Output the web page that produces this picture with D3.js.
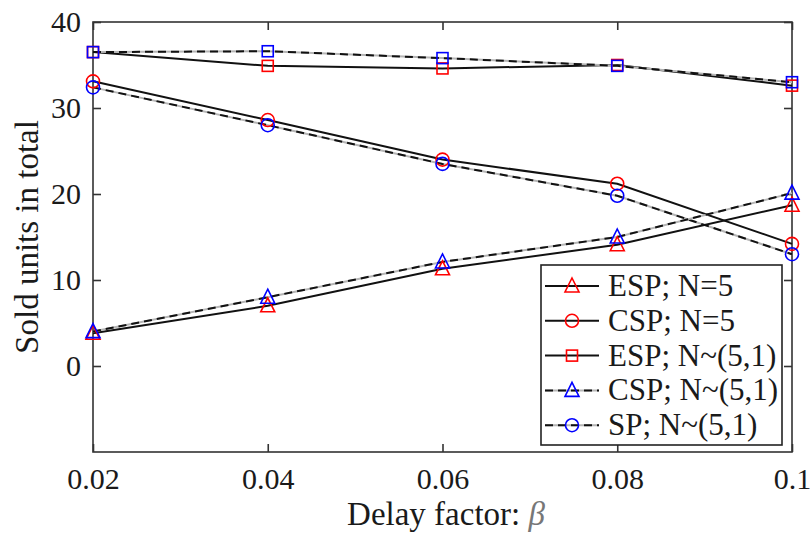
<!DOCTYPE html>
<html>
<head>
<meta charset="utf-8">
<script src="https://cdn.jsdelivr.net/npm/d3@7"></script>
<style>
  html, body { margin: 0; padding: 0; background: #fff; }
  svg { display: block; }
  text { font-family: "Liberation Serif", "Times New Roman", serif; fill: #1a1a1a; }
</style>
</head>
<body>
<svg id="chart" width="810" height="535"></svg>
<script>
// Delay factor values on the x axis
const betas = [0.02, 0.04, 0.06, 0.08, 0.1];
const xTickLabels = ["0.02", "0.04", "0.06", "0.08", "0.1"];
const yTicks = [0, 10, 20, 30, 40];

// Sold units in total for each strategy
const espN5      = [3.8, 7.0, 11.3, 14.1, 18.7];
const cspN5      = [33.1, 28.6, 24.0, 21.2, 14.2];
const espNdist   = [36.5, 34.9, 34.6, 35.0, 32.6];
const cspNdist   = [4.0, 8.0, 12.1, 15.0, 20.1];
const spNdist    = [32.4, 28.0, 23.5, 19.8, 13.0];
const espNdistB  = [36.5, 36.6, 35.8, 34.9, 33.0];

const seriesNames = ["ESP; N=5", "CSP; N=5", "ESP; N~(5,1)", "CSP; N~(5,1)", "SP; N~(5,1)"];

const series = [
  { name: seriesNames[2], values: espNdist,  color: "#ff0000", marker: "square",   dashed: false, legend: 2 },
  { name: "",             values: espNdistB, color: "#0000ff", marker: "square",   dashed: true,  legend: -1 },
  { name: seriesNames[1], values: cspN5,     color: "#ff0000", marker: "circle",   dashed: false, legend: 1 },
  { name: seriesNames[4], values: spNdist,   color: "#0000ff", marker: "circle",   dashed: true,  legend: 4 },
  { name: seriesNames[0], values: espN5,     color: "#ff0000", marker: "triangle", dashed: false, legend: 0 },
  { name: seriesNames[3], values: cspNdist,  color: "#0000ff", marker: "triangle", dashed: true,  legend: 3 }
];

const svg = d3.select("#chart");
const plot = { left: 93, right: 792, top: 22, bottom: 452 };

const x = d3.scaleLinear().domain([0.02, 0.1]).range([plot.left, plot.right]);
const y = d3.scaleLinear().domain([-10, 40]).range([plot.bottom, plot.top]);

const axisColor = "#333";
const tickLen = 8;

// frame
svg.append("rect")
  .attr("x", plot.left).attr("y", plot.top)
  .attr("width", plot.right - plot.left).attr("height", plot.bottom - plot.top)
  .attr("fill", "none").attr("stroke", axisColor).attr("stroke-width", 1.6);

// inward ticks via d3 axes (bottom / left with labels, top / right mirrored)
const xAxisB = d3.axisBottom(x).tickValues(betas).tickSize(-tickLen).tickPadding(16)
  .tickFormat((d, i) => xTickLabels[i]);
const xAxisT = d3.axisTop(x).tickValues(betas).tickSize(-tickLen).tickFormat("");
const yAxisL = d3.axisLeft(y).tickValues(yTicks).tickSize(-tickLen).tickPadding(12);
const yAxisR = d3.axisRight(y).tickValues(yTicks).tickSize(-tickLen).tickFormat("");

function styleAxis(g) {
  g.select(".domain").remove();
  g.selectAll(".tick line").attr("stroke", axisColor).attr("stroke-width", 1.6);
  g.selectAll(".tick text").attr("fill", "#1a1a1a")
    .style("font-family", '"Liberation Serif", "Times New Roman", serif')
    .style("font-size", "30px");
}

svg.append("g").attr("transform", `translate(0,${plot.bottom})`).call(xAxisB).call(styleAxis);
svg.append("g").attr("transform", `translate(0,${plot.top})`).call(xAxisT).call(styleAxis);
svg.append("g").attr("transform", `translate(${plot.left},0)`).call(yAxisL).call(styleAxis);
svg.append("g").attr("transform", `translate(${plot.right},0)`).call(yAxisR).call(styleAxis);

// axis titles
svg.append("text")
  .attr("x", 446).attr("y", 525)
  .attr("text-anchor", "middle")
  .style("font-size", "33px")
  .html('Delay factor: <tspan font-style="italic" fill="#777">β</tspan>');

svg.append("text")
  .attr("transform", `translate(38,${(plot.top + plot.bottom) / 2}) rotate(-90)`)
  .attr("text-anchor", "middle")
  .style("font-size", "33px")
  .text("Sold units in total");

const line = d3.line().x((d, i) => x(betas[i])).y(d => y(d));

function drawLine(g, pathFn, dashed) {
  if (dashed) {
    g.append("path").attr("d", pathFn).attr("fill", "none")
      .attr("stroke", "#b5b5b5").attr("stroke-width", 2);
    g.append("path").attr("d", pathFn).attr("fill", "none")
      .attr("stroke", "#111").attr("stroke-width", 2)
      .attr("stroke-dasharray", "8,5");
  } else {
    g.append("path").attr("d", pathFn).attr("fill", "none")
      .attr("stroke", "#111").attr("stroke-width", 2);
  }
}

function drawMarker(g, type, cx, cy, color) {
  if (type === "circle") {
    g.append("circle").attr("cx", cx).attr("cy", cy).attr("r", 6.5)
      .attr("fill", "none").attr("stroke", color).attr("stroke-width", 1.6);
  } else if (type === "square") {
    g.append("rect").attr("x", cx - 5.5).attr("y", cy - 5.5).attr("width", 11).attr("height", 11)
      .attr("fill", "none").attr("stroke", color).attr("stroke-width", 1.6);
  } else {
    const s = 7;
    g.append("path")
      .attr("d", `M${cx},${cy - s - 1}L${cx + s},${cy + s - 1}L${cx - s},${cy + s - 1}Z`)
      .attr("fill", "none").attr("stroke", color).attr("stroke-width", 1.6);
  }
}

// lines first, then markers on top
const linesG = svg.append("g");
series.forEach(s => drawLine(linesG, line(s.values), s.dashed));
const markersG = svg.append("g");
series.forEach(s => {
  s.values.forEach((v, i) => drawMarker(markersG, s.marker, x(betas[i]), y(v), s.color));
});

// legend
const legendEntries = series.filter(s => s.legend >= 0).sort((a, b) => a.legend - b.legend);
const lg = svg.append("g");
lg.append("rect").attr("x", 541).attr("y", 265).attr("width", 241).attr("height", 180)
  .attr("fill", "#fff").attr("stroke", "#222").attr("stroke-width", 1.6);
legendEntries.forEach((s, i) => {
  const ly = 286 + i * 34.8;
  const lp = `M545,${ly}L599,${ly}`;
  drawLine(lg, lp, s.dashed);
  drawMarker(lg, s.marker, 572, ly, s.color);
  lg.append("text").attr("x", 608).attr("y", ly + 10)
    .style("font-size", "31px").text(s.name);
});
</script>
</body>
</html>
